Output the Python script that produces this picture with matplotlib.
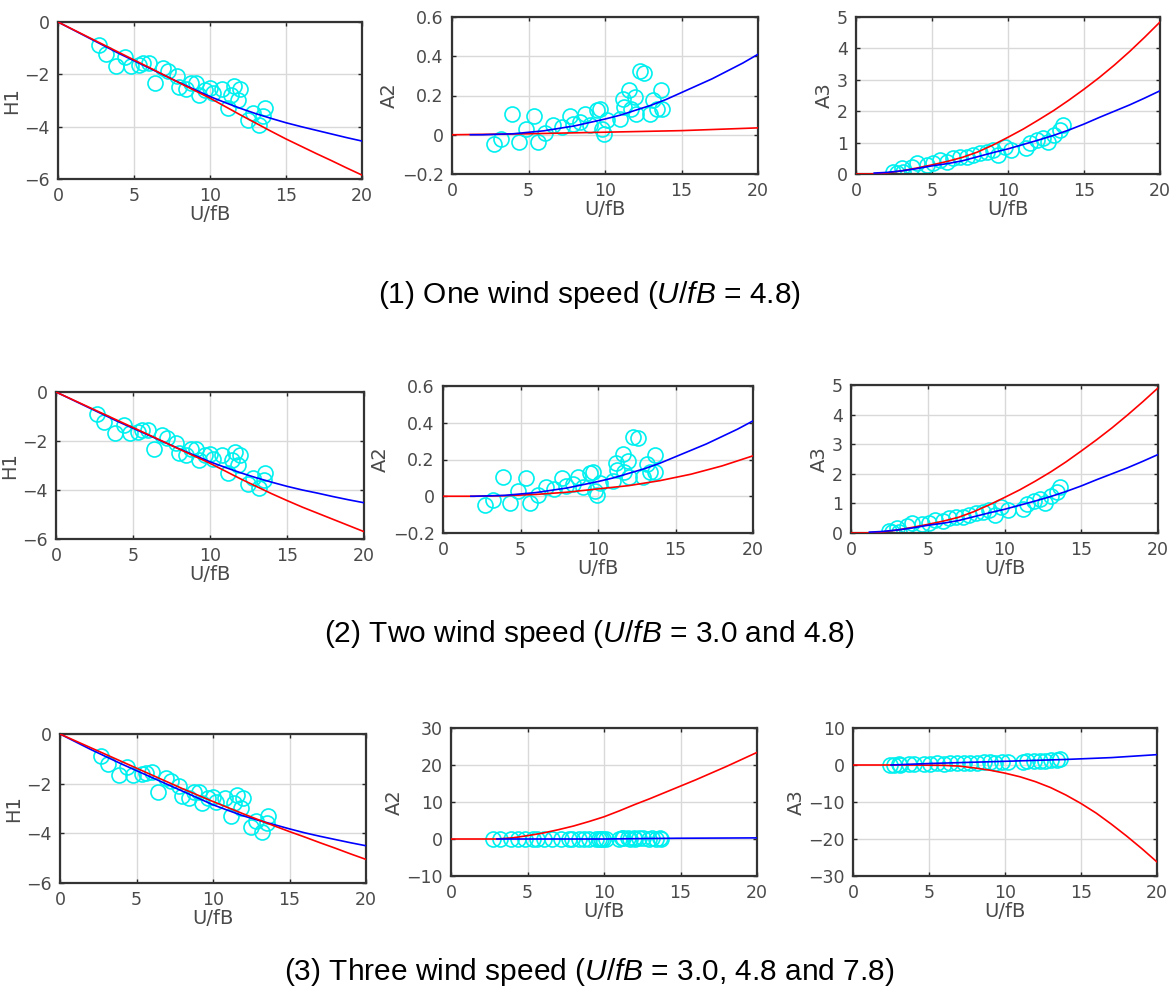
import matplotlib
matplotlib.use('Agg')
import matplotlib.pyplot as plt

plt.rcParams['font.family'] = ['DejaVu Sans']
plt.rcParams['mathtext.fontset'] = 'custom'
plt.rcParams['mathtext.rm'] = 'Liberation Sans'
plt.rcParams['mathtext.it'] = 'Liberation Sans:italic'

# ---- measured points (same test data in every row) ----
x_h1 = [2.67, 3.13, 3.84, 4.4, 4.78, 5.33, 5.6, 6.0, 6.38, 6.9, 7.24, 7.8, 7.96,
        8.44, 8.77, 9.1, 9.3, 9.65, 10.0, 10.2, 10.8, 11.18, 11.4, 11.6, 11.95,
        11.85, 12.5, 12.8, 13.2, 13.5, 13.6]
h1_pts = [-0.89, -1.21, -1.67, -1.34, -1.67, -1.63, -1.57, -1.55, -2.34, -1.76,
          -1.89, -2.08, -2.49, -2.57, -2.34, -2.34, -2.78, -2.59, -2.53, -2.72,
          -2.57, -3.3, -2.78, -2.44, -2.57, -2.97, -3.74, -3.49, -3.93, -3.6, -3.3]

x_a2 = [2.72, 3.2, 3.9, 4.35, 4.83, 5.33, 5.6, 6.1, 6.63, 7.17, 7.7, 7.93, 8.37,
        8.7, 9.0, 9.46, 9.67, 9.78, 9.93, 10.1, 10.98, 11.15, 11.24, 11.6, 11.67,
        11.96, 12.0, 12.28, 12.57, 12.93, 13.15, 13.37, 13.65, 13.7]
a2_pts = [-0.046, -0.02, 0.107, -0.037, 0.027, 0.098, -0.037, 0.008, 0.048, 0.039,
          0.098, 0.056, 0.065, 0.107, 0.048, 0.124, 0.132, 0.031, 0.005, 0.073,
          0.081, 0.183, 0.141, 0.229, 0.132, 0.192, 0.107, 0.323, 0.316, 0.107,
          0.175, 0.132, 0.226, 0.132]

x_a3 = [2.7, 2.45, 3.0, 3.1, 3.66, 4.0, 4.65, 5.09, 5.5, 5.97, 6.4, 6.84, 7.3, 7.7,
        8.16, 8.6, 9.0, 9.36, 9.8, 10.2, 11.2, 11.45, 11.9, 12.3, 12.65, 13.0,
        13.4, 13.6]
a3_pts = [0.02, 0.07, 0.18, 0.05, 0.23, 0.34, 0.29, 0.34, 0.45, 0.39, 0.5, 0.55,
          0.55, 0.6, 0.66, 0.71, 0.77, 0.6, 0.87, 0.77, 0.82, 0.98, 1.08, 1.14,
          1.03, 1.25, 1.4, 1.57]

# ---- identified curves ----
xh = [0, 2, 4, 6, 8, 10, 11, 12, 13, 14, 15, 16, 17, 18, 19, 20]
h1_red_1 = [0, -0.58, -1.16, -1.74, -2.33, -2.91, -3.23, -3.55, -3.86, -4.17,
            -4.47, -4.75, -5.03, -5.3, -5.58, -5.85]
h1_blue_1 = [0, -0.6, -1.2, -1.76, -2.32, -2.85, -3.08, -3.3, -3.5, -3.68,
             -3.85, -4.0, -4.14, -4.28, -4.42, -4.55]
h1_red_2 = [0, -0.58, -1.16, -1.74, -2.33, -2.91, -3.23, -3.55, -3.85, -4.15,
            -4.43, -4.7, -4.95, -5.2, -5.45, -5.7]
h1_blue_2 = [0, -0.6, -1.2, -1.76, -2.32, -2.85, -3.08, -3.3, -3.5, -3.68,
             -3.85, -4.0, -4.13, -4.27, -4.4, -4.52]
h1_red_3 = [0, -0.55, -1.1, -1.65, -2.2, -2.72, -2.97, -3.22, -3.46, -3.7,
            -3.93, -4.15, -4.38, -4.6, -4.83, -5.05]
h1_blue_3 = [0, -0.62, -1.2, -1.75, -2.3, -2.85, -3.08, -3.3, -3.48, -3.65,
             -3.82, -3.98, -4.12, -4.25, -4.38, -4.5]

x_a2_blue_1 = [1.2, 2, 4, 6, 8, 10, 11, 12, 13, 14, 15, 16, 17, 18, 19, 20]
x_a2_blue_2 = [1.8, 2, 4, 6, 8, 10, 11, 12, 13, 14, 15, 16, 17, 18, 19, 20]
a2_blue = [0, 0, 0.005, 0.02, 0.045, 0.08, 0.1, 0.125, 0.15, 0.18, 0.215, 0.25,
           0.285, 0.325, 0.365, 0.41]
x_a2_red_1 = [0, 5, 10, 15, 20]
a2_red_1 = [0, 0.005, 0.013, 0.021, 0.035]
x_a2_red_2 = [0, 2, 4, 6, 8, 10, 12, 14, 16, 18, 20]
a2_red_2 = [0, 0, 0.003, 0.01, 0.022, 0.04, 0.058, 0.085, 0.12, 0.165, 0.22]
x_a2_red_3 = [0, 2, 3, 4, 5, 6, 7, 8, 9, 10, 11, 12, 13, 14, 15, 16, 17, 18, 19, 20]
a2_red_3 = [0, 0, 0, 0.3, 0.9, 1.6, 2.5, 3.5, 4.7, 6.0, 7.6, 9.3, 10.9, 12.6,
            14.3, 16.0, 17.8, 19.6, 21.5, 23.4]
x_a2_blue_3 = [3, 5, 10, 14.7, 20]
a2_blue_3 = [0, 0, 0, 0.2, 0.3]

x_a3_red = [0, 1, 2, 3, 4, 5, 6, 7, 8, 9, 10, 11, 12, 13, 14, 15, 16, 17, 18, 19, 20]
a3_red_1 = [0, 0, 0.03, 0.1, 0.19, 0.29, 0.4, 0.53, 0.7, 0.92, 1.17, 1.43, 1.72,
            2.02, 2.35, 2.7, 3.07, 3.47, 3.9, 4.36, 4.84]
a3_red_2 = [0, 0, 0.03, 0.1, 0.19, 0.29, 0.4, 0.53, 0.72, 0.95, 1.2, 1.46, 1.75,
            2.06, 2.4, 2.77, 3.15, 3.55, 3.98, 4.43, 4.9]
x_a3_blue = [1.2, 2, 3, 4, 5, 6, 7, 8, 9, 10, 11, 12, 13, 14, 15, 16, 17, 18, 19, 20]
a3_blue = [0.03, 0.05, 0.1, 0.17, 0.26, 0.33, 0.42, 0.55, 0.68, 0.8, 0.94, 1.08,
           1.23, 1.4, 1.59, 1.8, 2.0, 2.2, 2.42, 2.65]
x_a3_red_3 = [0, 2, 4, 6, 7, 8, 9, 10, 11, 12, 13, 14, 15, 16, 17, 18, 19, 20]
a3_red_3 = [0, 0, 0, -0.1, -0.3, -0.8, -1.4, -2.2, -3.2, -4.5, -6.1, -8.1, -10.4,
            -13.0, -16.0, -19.2, -22.6, -26.2]
x_a3_blue_3 = [2.5, 5, 10, 14, 17, 20]
a3_blue_3 = [0, 0.4, 1.0, 1.5, 2.0, 2.8]

captions = [
    r'(1) One wind speed ($\mathit{U}$/$\mathit{fB}$ = 4.8)',
    r'(2) Two wind speed ($\mathit{U}$/$\mathit{fB}$ = 3.0 and 4.8)',
    r'(3) Three wind speed ($\mathit{U}$/$\mathit{fB}$ = 3.0, 4.8 and 7.8)',
]

W, H = 1173, 994
fig = plt.figure(figsize=(W / 100, H / 100), dpi=100)


def make_ax(l, r, t, b):
    return fig.add_axes([l / W, 1 - b / H, (r - l) / W, (b - t) / H])


def style(ax, ylabel, ylim, yticks, yticklabels=None):
    ax.set_xlim(0, 20)
    ax.set_ylim(*ylim)
    ax.set_xticks([0, 5, 10, 15, 20])
    ax.set_yticks(yticks)
    if yticklabels is not None:
        ax.set_yticklabels(yticklabels)
    ax.grid(True, color='#d9d9d9', lw=1.0)
    ax.set_axisbelow(True)
    ax.tick_params(direction='in', length=3, width=1, top=True, right=True,
                   labelsize=12.5, colors='#262626', labelcolor='#4a4a4a', pad=6)
    for s in ax.spines.values():
        s.set_linewidth(1.6)
        s.set_color('#333333')
    ax.set_xlabel('U/fB', fontsize=14, color='#4a4a4a', labelpad=0)
    ax.set_ylabel(ylabel, fontsize=14, color='#4a4a4a', labelpad=2)


def scatter(ax, x, y):
    ax.plot(x, y, 'o', ms=10.8, mfc='none', mec='#00f0f0', mew=1.2, zorder=2)


def line(ax, x, y, c):
    ax.plot(x, y, color=c, lw=1.2, zorder=3)


h1_lim, h1_ticks = (-6, 0), [-6, -4, -2, 0]
a2_lim, a2_ticks = (-0.2, 0.6), [-0.2, 0, 0.2, 0.4, 0.6]
a2_lbl = ['\u22120.2', '0', '0.2', '0.4', '0.6']
a3_lim, a3_ticks = (0, 5), [0, 1, 2, 3, 4, 5]

# row 1
ax = make_ax(58, 362, 22, 179)
scatter(ax, x_h1, h1_pts)
line(ax, xh, h1_blue_1, 'blue')
line(ax, xh, h1_red_1, 'red')
style(ax, 'H1', h1_lim, h1_ticks)

ax = make_ax(452, 758, 17, 174)
scatter(ax, x_a2, a2_pts)
line(ax, x_a2_red_1, a2_red_1, 'red')
line(ax, x_a2_blue_1, a2_blue, 'blue')
style(ax, 'A2', a2_lim, a2_ticks, a2_lbl)

ax = make_ax(856, 1160, 17, 174)
scatter(ax, x_a3, a3_pts)
line(ax, x_a3_red, a3_red_1, 'red')
line(ax, x_a3_blue, a3_blue, 'blue')
style(ax, 'A3', a3_lim, a3_ticks)

# row 2
ax = make_ax(56, 364, 392, 539)
scatter(ax, x_h1, h1_pts)
line(ax, xh, h1_blue_2, 'blue')
line(ax, xh, h1_red_2, 'red')
style(ax, 'H1', h1_lim, h1_ticks)

ax = make_ax(443, 753, 386, 533)
scatter(ax, x_a2, a2_pts)
line(ax, x_a2_red_2, a2_red_2, 'red')
line(ax, x_a2_blue_2, a2_blue, 'blue')
style(ax, 'A2', a2_lim, a2_ticks, a2_lbl)

ax = make_ax(851, 1158, 385, 533)
scatter(ax, x_a3, a3_pts)
line(ax, x_a3_red, a3_red_2, 'red')
line(ax, x_a3_blue, a3_blue, 'blue')
style(ax, 'A3', a3_lim, a3_ticks)

# row 3
ax = make_ax(60, 366, 734, 883)
scatter(ax, x_h1, h1_pts)
line(ax, xh, h1_blue_3, 'blue')
line(ax, xh, h1_red_3, 'red')
style(ax, 'H1', h1_lim, h1_ticks)

ax = make_ax(451, 757, 728, 876)
line(ax, x_a2_red_3, a2_red_3, 'red')
line(ax, x_a2_blue_3, a2_blue_3, 'blue')
scatter(ax, x_a2, a2_pts)
style(ax, 'A2', (-10, 30), [-10, 0, 10, 20, 30])

ax = make_ax(853, 1157, 728, 876)
line(ax, x_a3_red_3, a3_red_3, 'red')
line(ax, x_a3_blue_3, a3_blue_3, 'blue')
scatter(ax, x_a3, a3_pts)
style(ax, 'A3', (-30, 10), [-30, -20, -10, 0, 10])

for cap, yc in zip(captions, [295, 634, 972]):
    fig.text(589 / W, 1 - yc / H, cap, ha='center', va='center', fontsize=21.5,
             family='Liberation Sans', color='black')

fig.savefig('out.png', dpi=100)
